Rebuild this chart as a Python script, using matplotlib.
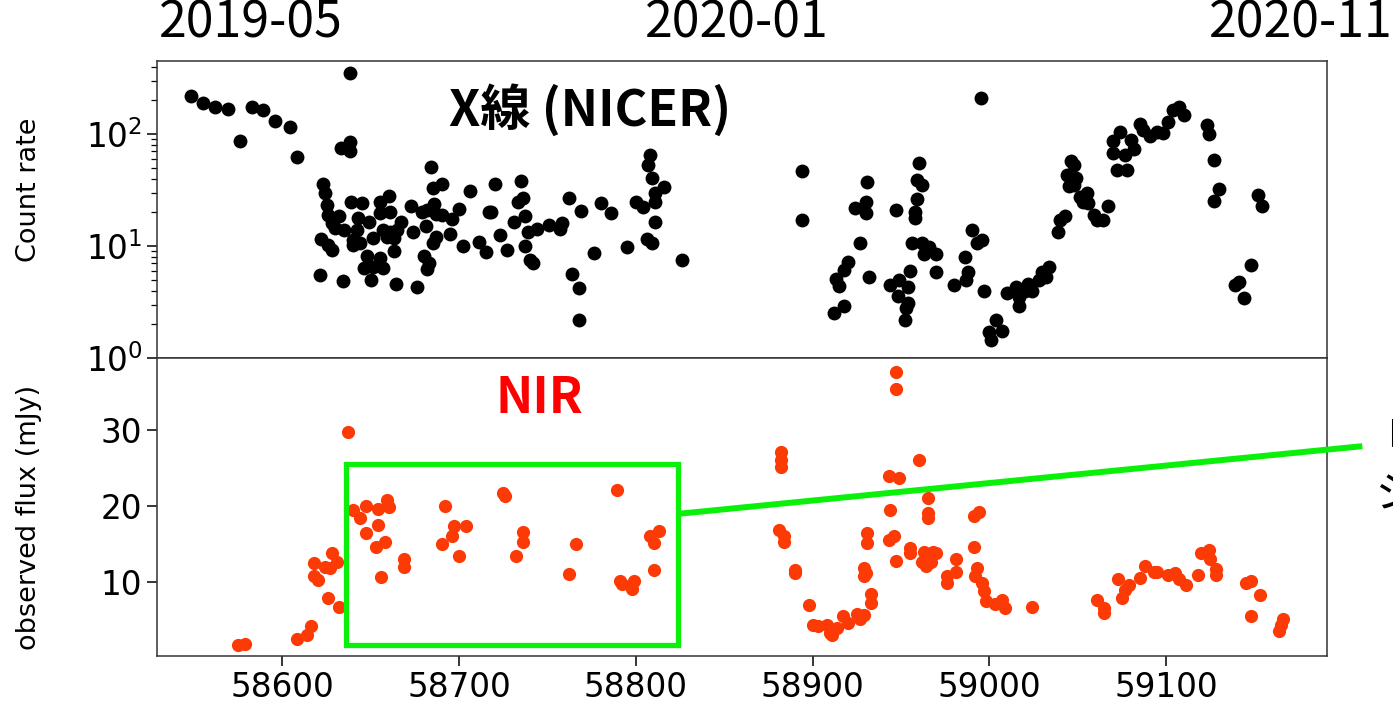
import numpy as np
import matplotlib
matplotlib.use('Agg')
import matplotlib.pyplot as plt
from matplotlib.patches import Rectangle
from matplotlib.ticker import LogLocator, NullFormatter

# NICER light curve (MJD, count rate)
xray_mjd = [58548, 58555, 58562, 58569, 58576, 58583, 58589, 58596, 58604, 58608,
            58638, 58638, 58633, 58638, 58623, 58624, 58625, 58626, 58628, 58632,
            58630, 58635, 58622, 58628, 58626, 58621, 58634, 58639, 58645, 58643,
            58649, 58642, 58640, 58644, 58640, 58651, 58648, 58655, 58646, 58651,
            58657, 58650, 58660, 58655, 58655, 58661, 58657, 58661, 58665, 58659,
            58663, 58667, 58663, 58664, 58673, 58674, 58676, 58684, 58685, 58690,
            58679, 58682, 58686, 58687, 58690, 58696, 58700, 58681, 58687, 58685,
            58695, 58680, 58683, 58682, 58706, 58702, 58711, 58715, 58720, 58717,
            58718, 58723, 58727, 58731, 58733, 58736, 58735, 58737, 58739, 58737,
            58740, 58742, 58744, 58751, 58758, 58757, 58762, 58769, 58764, 58768,
            58768, 58776, 58780, 58786, 58795, 58800, 58804, 58808, 58807, 58809,
            58816, 58811, 58811, 58811, 58806, 58809, 58826,
            58894, 58894, 58995, 58913, 58915, 58912, 58918, 58920, 58918, 58924,
            58930, 58930, 58931, 58927, 58932, 58944, 58949, 58948, 58952, 58954,
            58953, 58954, 58955, 58947, 58956, 58960, 58959, 58962, 58959, 58958,
            58958, 58962, 58963, 58966, 58970, 58970, 58980, 58986, 58988, 58987,
            58990, 58993, 58996, 58997, 59000, 59001, 59004, 59007, 59010, 59017,
            59017, 59015, 59020, 59022, 59024, 59028, 59030, 59032, 59034, 59039,
            59040, 59043, 59044, 59046, 59048, 59045, 59049, 59048, 59051, 59053,
            59055, 59056, 59059, 59061, 59064, 59067, 59070, 59070, 59072, 59074,
            59078, 59077, 59080, 59082, 59085, 59087, 59091, 59095, 59098, 59101,
            59104, 59107, 59110, 59123, 59124, 59127, 59130, 59127, 59139, 59141,
            59148, 59144, 59152, 59154]
xray_rate = [218, 188, 175, 168, 87, 173, 164, 130, 116, 62,
             353, 84, 75, 70, 35.8, 29.5, 23.2, 18.9, 16.0, 18.7,
             14.4, 13.9, 11.5, 9.2, 10.2, 5.5, 4.9, 24.9, 24.4, 17.9,
             16.3, 13.9, 11.3, 10.7, 10.2, 11.9, 8.1, 7.8, 6.3, 6.5,
             6.3, 5.0, 28.1, 24.9, 19.6, 20.2, 13.9, 13.4, 13.9, 12.1,
             11.7, 16.5, 9.0, 4.6, 22.8, 13.4, 4.3, 51, 33.2, 35.6,
             20.2, 21.0, 23.6, 19.2, 18.9, 17.4, 21.4, 15.1, 12.0, 10.6,
             12.8, 8.2, 7.1, 6.2, 31.2, 9.9, 10.8, 8.9, 35.8, 20.0,
             20.0, 12.5, 9.3, 16.5, 24.9, 26.7, 38.3, 18.7, 13.4, 9.9,
             7.5, 7.1, 14.2, 15.4, 16.0, 14.2, 26.7, 20.5, 5.6, 4.2,
             2.2, 8.6, 24.1, 19.8, 9.7, 24.5, 22.4, 65, 53, 40.2,
             33.8, 29.5, 24.9, 16.5, 11.5, 10.6, 7.5,
             46.7, 17.0, 208, 5.1, 4.4, 2.5, 2.9, 7.2, 6.1, 21.7,
             24.9, 19.6, 37.5, 10.6, 5.3, 4.5, 5.0, 3.6, 2.2, 3.1,
             2.8, 4.3, 6.0, 21.0, 10.7, 55.5, 38.8, 35, 26.1, 20.2,
             17.7, 10.7, 8.5, 9.7, 8.5, 5.8, 4.5, 7.9, 5.8, 5.0,
             13.8, 10.6, 11.2, 4.0, 1.7, 1.45, 2.2, 1.74, 3.8, 2.9,
             3.5, 4.3, 4.0, 4.6, 4.0, 5.0, 5.8, 5.3, 6.5, 13.4,
             17.1, 18.7, 43, 57.8, 53, 34.3, 40.2, 35, 27.6, 24.9,
             29.5, 24.4, 18.9, 17.1, 17.1, 22.8, 87, 68, 47.7, 105,
             47.7, 65, 88, 74, 123, 109, 96, 105, 103, 129,
             164, 173, 148, 120, 101, 59, 32.1, 25.2, 4.5, 4.8,
             6.8, 3.4, 28.5, 22.9]

# near-infrared photometry (MJD, mJy)
nir_mjd = [58575, 58579, 58608, 58614, 58616, 58626, 58632, 58618, 58618, 58620,
           58624, 58627, 58628, 58631, 58637, 58640, 58647, 58644, 58647, 58654,
           58654, 58659, 58660, 58653, 58658, 58656, 58669, 58669, 58692, 58697,
           58704, 58696, 58690, 58700, 58725, 58726, 58736, 58736, 58732, 58766,
           58762, 58789, 58791, 58792, 58799, 58798, 58810, 58808, 58813, 58810,
           58882, 58882, 58882, 58881, 58884, 58884, 58890, 58890, 58898, 58900,
           58903, 58908, 58910, 58911, 58914, 58917, 58920, 58925, 58929, 58927,
           58933, 58933, 58929, 58930, 58929, 58931, 58931, 58947, 58947, 58943,
           58949, 58944, 58943, 58946, 58947, 58960, 58965, 58965, 58965, 58955,
           58955, 58963, 58966, 58968, 58970, 58965, 58967, 58964, 58962, 58981,
           58981, 58976, 58976, 58991, 58994, 58991, 58993, 58992, 58996, 58997,
           58998, 59003, 59007, 59009, 59024, 59061, 59065, 59065, 59073, 59075,
           59077, 59079, 59085, 59088, 59093, 59095, 59101, 59105, 59107, 59111,
           59118, 59120, 59124, 59125, 59128, 59128, 59145, 59148, 59153, 59148,
           59166, 59165, 59164]
nir_flux = [1.7, 1.9, 2.6, 3.1, 4.2, 7.9, 6.8, 12.5, 10.8, 10.3,
            12.0, 11.9, 13.9, 12.7, 29.7, 19.5, 20.0, 18.5, 16.5, 17.5,
            19.7, 20.8, 19.9, 14.7, 15.3, 10.7, 13.1, 12.0, 20.0, 17.4,
            17.4, 16.1, 15.0, 13.4, 21.7, 21.3, 16.6, 15.3, 13.4, 15.0,
            11.1, 22.2, 10.1, 9.8, 10.1, 9.1, 11.6, 16.1, 16.8, 15.2,
            27.1, 26.1, 25.1, 16.9, 16.1, 15.3, 11.6, 11.2, 7.0, 4.4,
            4.2, 4.4, 3.3, 3.1, 4.0, 5.5, 4.7, 5.8, 5.7, 5.1,
            8.5, 7.3, 11.9, 11.2, 10.8, 16.5, 15.2, 37.6, 35.4, 24.0,
            23.7, 19.5, 15.6, 16.1, 12.8, 26.1, 21.1, 19.1, 18.5, 14.5,
            13.9, 14.0, 13.6, 14.0, 13.8, 13.0, 12.7, 12.1, 12.7, 13.0,
            11.4, 10.8, 9.9, 18.7, 19.3, 14.7, 11.9, 10.8, 9.9, 8.8,
            7.5, 7.1, 7.7, 6.6, 6.7, 7.6, 6.6, 6.0, 10.4, 7.9,
            9.0, 9.7, 10.6, 12.1, 11.4, 11.4, 10.9, 11.2, 10.4, 9.7,
            11.0, 13.9, 14.3, 13.0, 11.7, 11.0, 9.9, 10.1, 8.3, 5.6,
            5.1, 4.4, 3.6]

date_labels = ['2019-05', '2020-01', '2020-11']
date_label_mjd = [58582, 58857, 59176]

# highlighted interval and the leader line out to the side note
box_mjd = [58636, 58824]
box_flux = [1.75, 25.6]
link_mjd = [58824, 59211]
link_flux = [19.0, 27.9]

green = '#0af00a'
nir_red = '#fb3a06'
jp_font = ['Noto Sans CJK JP', 'DejaVu Sans']

plt.rcParams['font.family'] = 'DejaVu Sans'
plt.rcParams['axes.linewidth'] = 1.1
plt.rcParams['axes.edgecolor'] = '#333333'

fig = plt.figure(figsize=(13.93, 7.04), dpi=100)
ax1 = fig.add_axes([0.1127, 0.4915, 0.8399, 0.4219])
ax2 = fig.add_axes([0.1127, 0.0682, 0.8399, 0.4233], sharex=ax1)

ax1.plot(xray_mjd, xray_rate, 'o', color='k', ms=10, mec='none')
ax1.set_yscale('log')
ax1.set_ylim(1, 449)
ax1.yaxis.set_major_locator(LogLocator(base=10, numticks=10))
ax1.yaxis.set_minor_locator(LogLocator(base=10, subs=np.arange(2, 10), numticks=20))
ax1.yaxis.set_minor_formatter(NullFormatter())
ax1.tick_params(axis='x', bottom=False, labelbottom=False)
ax1.tick_params(axis='y', which='major', labelsize=23.5, length=7, width=1.1)
ax1.tick_params(axis='y', which='minor', length=4, width=0.9)
ax1.set_ylabel('Count rate', fontsize=19.5)
ax1.yaxis.set_label_coords(-0.098, 0.566)
ax1.text(0.37, 0.835, 'X線 (NICER)', transform=ax1.transAxes, ha='center', va='center',
         fontsize=36, fontweight='bold', family=jp_font)

ax2.plot(nir_mjd, nir_flux, 'o', color=nir_red, ms=9.5, mec='none')
ax2.set_ylim(0.3, 39.5)
ax2.set_yticks([10, 20, 30])
ax2.set_xlim(58529, 59191)
ax2.set_xticks([58600, 58700, 58800, 58900, 59000, 59100])
ax2.tick_params(labelsize=23.5, length=7, width=1.1)
ax2.set_ylabel('observed flux (mJy)', fontsize=19.5)
ax2.yaxis.set_label_coords(-0.098, 0.466)
ax2.text(0.327, 0.865, 'NIR', transform=ax2.transAxes, ha='center', va='center',
         fontsize=36, fontweight='bold', color='red', family=jp_font)

ax2.add_patch(Rectangle((box_mjd[0], box_flux[0]), box_mjd[1] - box_mjd[0],
                        box_flux[1] - box_flux[0], fill=False, ec=green, lw=3.8, zorder=3))
ax2.plot(link_mjd, link_flux, color=green, lw=4.3, clip_on=False, zorder=3,
         solid_capstyle='butt')

top = ax1.secondary_xaxis('top')
top.set_xticks(date_label_mjd)
top.set_xticklabels(date_labels, family=jp_font, fontsize=36)
top.tick_params(length=0, pad=8)
top.spines['top'].set_visible(False)

# side note, running off the right edge of the slide
fig.text(0.9785, 0.372, '「', family=jp_font, fontsize=31, ha='left', va='center')
fig.text(0.9880, 0.297, 'ジ', family=jp_font, fontsize=31, ha='left', va='center')

fig.savefig('out.png', dpi=100)
